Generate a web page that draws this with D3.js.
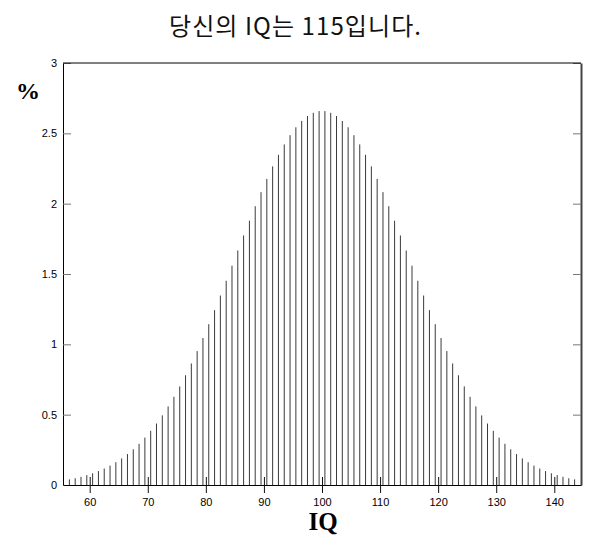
<!DOCTYPE html>
<html><head><meta charset="utf-8">
<script src="https://cdn.jsdelivr.net/npm/d3@7"></script>
<style>body{margin:0;background:#fff}svg{display:block}</style>
</head><body>
<svg id="c" width="609" height="541"></svg>
<script>
// IQ bin centres (56.5 .. 143.5) and percentage heights
const iqValues = d3.range(88).map(i => 56.5 + i);
const rightHalf = [2.658, 2.646, 2.623, 2.588, 2.543, 2.487, 2.421, 2.347, 2.265, 2.176,
  2.082, 1.982, 1.879, 1.774, 1.667, 1.559, 1.452, 1.347, 1.243, 1.143,
  1.045, 0.952, 0.864, 0.780, 0.701, 0.627, 0.559, 0.495, 0.437, 0.385,
  0.337, 0.293, 0.254, 0.220, 0.189, 0.162, 0.138, 0.117, 0.099, 0.083,
  0.070, 0.058, 0.048, 0.040];
const percentValues = rightHalf.slice().reverse().concat(rightHalf);
const xTicks = [60, 70, 80, 90, 100, 110, 120, 130, 140];
const yTicks = [0, 0.5, 1, 1.5, 2, 2.5, 3];
const yTickLabels = ["0", "0.5", "1", "1.5", "2", "2.5", "3"];
const titleText = "당신의 IQ는 115입니다.";

const svg = d3.select("#c");
const L = 63, R = 581, T = 63, B = 485;
const x = d3.scaleLinear().domain([55.4, 144.6]).range([L, R]);
const y = d3.scaleLinear().domain([0, 3]).range([B, T]);

// bars
svg.append("g").selectAll("line").data(iqValues).join("line")
  .attr("x1", d => x(d)).attr("x2", d => x(d))
  .attr("y1", y(0)).attr("y2", (d, i) => y(percentValues[i]))
  .attr("stroke", "#3a3a3a").attr("stroke-width", 1);

// left y axis
const yl = svg.append("g").attr("transform", `translate(${L},0)`)
  .call(d3.axisLeft(y).tickValues(yTicks).tickFormat((d, i) => yTickLabels[i]).tickSizeInner(-8).tickSizeOuter(0).tickPadding(6));
yl.select(".domain").attr("stroke", "#000");
yl.selectAll(".tick line").attr("stroke", "#777");
yl.selectAll(".tick text").attr("font-family", "Liberation Sans, Arial, sans-serif").attr("font-size", 11).attr("fill", "#000");

// right y axis
const yr = svg.append("g").attr("transform", `translate(${R},0)`)
  .call(d3.axisRight(y).tickValues(yTicks).tickFormat("").tickSizeInner(-8).tickSizeOuter(0));
yr.select(".domain").attr("stroke", "#444").attr("stroke-width", 2);
yr.selectAll(".tick line").attr("stroke", "#777");

// top border
svg.append("line").attr("x1", L).attr("x2", R).attr("y1", T).attr("y2", T).attr("stroke", "#000");

// bottom x axis
const xa = svg.append("g").attr("transform", `translate(0,${B})`)
  .call(d3.axisBottom(x).tickValues(xTicks).tickFormat(d3.format("d")).tickSizeInner(8).tickSizeOuter(0).tickPadding(5));
xa.select(".domain").attr("stroke", "#000");
xa.selectAll(".tick line").attr("stroke", "#111").attr("y1", -8).attr("y2", 8);
xa.selectAll(".tick text").attr("font-family", "Liberation Sans, Arial, sans-serif").attr("font-size", 11).attr("fill", "#000");

// labels
svg.append("text").attr("x", 28).attr("y", 99).attr("text-anchor", "middle")
  .attr("font-family", "Liberation Serif, Times New Roman, serif").attr("font-weight", "bold").attr("font-size", 24)
  .text("%");
svg.append("text").attr("x", 323).attr("y", 530).attr("text-anchor", "middle")
  .attr("font-family", "Liberation Serif, Times New Roman, serif").attr("font-weight", "bold").attr("font-size", 25)
  .text("IQ");
svg.append("text").attr("x", 295).attr("y", 35).attr("text-anchor", "middle")
  .attr("font-family", "Noto Sans CJK KR, sans-serif").attr("font-size", 24).attr("fill", "#111")
  .attr("textLength", 252).attr("lengthAdjust", "spacing")
  .text(titleText);
</script>
</body></html>
